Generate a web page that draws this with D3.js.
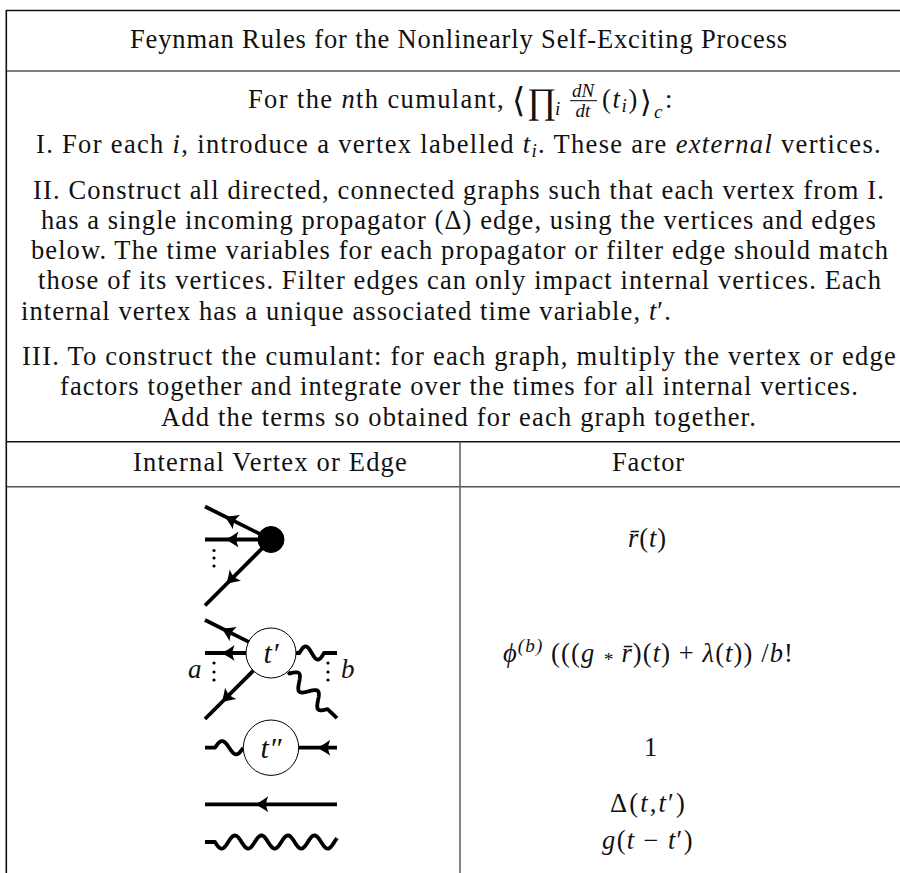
<html>
<script src='https://d3js.org/d3.v7.min.js'></script>
<style>
  body {margin: 0; background: white;}
  text {font-family: "Liberation Serif", serif; fill: #111;}
</style>
<body>
<svg width=900 height=873></svg>
<script>
// text, {x} = math italic, _{x} = subscript, ^{x} = superscript
const titleText = "Feynman Rules for the Nonlinearly Self-Exciting Process";
const ruleOne = ["I. For each {i}, introduce a vertex labelled {t}_{i}. These are {external} vertices."];
const ruleTwo = [
  "II. Construct all directed, connected graphs such that each vertex from I.",
  "has a single incoming propagator (Δ) edge, using the vertices and edges",
  "below. The time variables for each propagator or filter edge should match",
  "those of its vertices. Filter edges can only impact internal vertices. Each",
  "internal vertex has a unique associated time variable, {t}′."
];
const ruleThree = [
  "III. To construct the cumulant: for each graph, multiply the vertex or edge",
  "factors together and integrate over the times for all internal vertices.",
  "Add the terms so obtained for each graph together."
];
const columnHeads = ["Internal Vertex or Edge", "Factor"];
const factors = [
  "{r\u0304}({t})",
  "{ϕ}^{(b)} ((({g} _{*} {r\u0304})({t}) + {λ}({t})) /{b}!",
  "1",
  "Δ({t},{t}′)",
  "{g}({t} − {t}′)"
];

// diagrams, in unit coordinates: u runs -1..1 across the column, v is up/down from the row centre
const diagramRows = ["source", "vertex", "filter", "line", "wave"];
const vertexLabels = [null, "t′", "t″", null, null];
const straightEdges = [
  {row: "source", u: -1, v: 1, at: 0.30},
  {row: "source", u: -1, v: 0, at: 0.31},
  {row: "source", u: -1, v: -2, at: 0.32},
  {row: "vertex", u: -1, v: 1, at: 0.25},
  {row: "vertex", u: -1, v: 0, at: 0.25},
  {row: "vertex", u: -1, v: -2, at: 0.25},
  {row: "filter", u: 1, v: 0, at: 0.30, inward: true}
];
const wavyEdges = [
  {row: "vertex", u0: 0.37, v0: 0, u1: 1, v1: 0, periods: 1, lead: 4, tail: 13},
  {row: "vertex", u0: 0.26, v0: -0.58, u1: 1, v1: -1.97, periods: 2, lead: 2, tail: 13},
  {row: "filter", u0: -1, v0: 0, u1: -0.42, v1: 0, periods: 1, lead: 10, tail: 0},
  {row: "wave", u0: -1, v0: 0, u1: 1, v1: 0, periods: -4.6, lead: 10, tail: 0}
];

const svg = d3.select("svg");
const INK = "#000";
const GRID = 1.6;

// table rules
const rowY = [10.5, 71, 441.7, 486.7];
svg.selectAll("line.h").data(rowY).enter().append("line")
  .attr("x1", 6.3).attr("x2", 900).attr("y1", d => d).attr("y2", d => d)
  .attr("stroke", (d, i) => i % 2 ? "#555" : "#111").attr("stroke-width", GRID);
svg.append("line").attr("x1", 6.3).attr("x2", 6.3).attr("y1", 10).attr("y2", 873)
  .attr("stroke", "#111").attr("stroke-width", GRID);
svg.append("line").attr("x1", 460).attr("x2", 460).attr("y1", 441.7).attr("y2", 873)
  .attr("stroke", "#666").attr("stroke-width", GRID);

// turn the little markup into tspans
function addRich(sel, str, size) {
  const re = /_\{([^}]*)\}|\^\{([^}]*)\}|\{([^}]*)\}|([^_^{]+)/g;
  let m, shift = 0;
  while ((m = re.exec(str))) {
    const t = sel.append("tspan");
    let dy = -shift;
    if (m[1] !== undefined) {
      t.text(m[1]).style("font-style", "italic").style("font-size", size * 0.72 + "px");
      shift = size * 0.16;
    } else if (m[2] !== undefined) {
      t.text(m[2]).style("font-style", "italic").style("font-size", size * 0.72 + "px");
      shift = -size * 0.38;
    } else if (m[3] !== undefined) {
      t.text(m[3]).style("font-style", "italic");
      shift = 0;
    } else {
      t.text(m[4]);
      shift = 0;
    }
    dy += shift;
    if (dy) t.attr("dy", dy);
  }
}

// one line of text stretched to the x-extent it has in the picture
function fitLine(str, x0, x1, y, size) {
  const t = svg.append("text").attr("x", x0).attr("y", y).style("font-size", size + "px");
  addRich(t, str, size);
  const w = t.node().getComputedTextLength();
  const n = t.text().length;
  t.style("letter-spacing", (x1 - x0 - w) / n + "px");
  return t;
}
function smallText(str, x, y, size, anchor) {
  return svg.append("text").attr("x", x).attr("y", y).attr("text-anchor", anchor || "start")
    .style("font-size", size + "px").style("font-style", "italic").text(str);
}

const FS = 26.5;
fitLine(titleText, 130, 788, 48, FS);

// nth cumulant line, in pieces because of the fraction
fitLine("For the {n}th cumulant,", 248, 505, 108, FS);
svg.append("text").attr("x", 512).attr("y", 112).style("font-size", "34px").style("font-family", "DejaVu Serif").text("⟨");
svg.append("text").attr("x", 527).attr("y", 113).style("font-size", "36px").text("∏");
smallText("i", 555, 115, 19);
smallText("dN", 583, 96.7, 19, "middle");
smallText("dt", 583, 116.7, 19, "middle");
svg.append("line").attr("x1", 570).attr("x2", 597).attr("y1", 100.7).attr("y2", 100.7).attr("stroke", INK);
fitLine("({t}_{i})", 602, 639, 108, FS);
svg.append("text").attr("x", 640).attr("y", 112).style("font-size", "30px").style("font-family", "DejaVu Serif").text("⟩");
smallText("c", 654, 118, 19);
svg.append("text").attr("x", 665).attr("y", 108).style("font-size", FS + "px").text(":");

// paragraph lines; extents
fitLine(ruleOne[0], 36, 882, 153, FS);
const twoPlace = [[33, 885, 199], [41, 877, 228.5], [31, 889, 258.5], [38, 882, 289], [21, 672, 319.5]];
ruleTwo.forEach((s, i) => fitLine(s, twoPlace[i][0], twoPlace[i][1], twoPlace[i][2], FS));
const threePlace = [[22, 897, 365], [60, 859, 395], [161, 757, 426]];
ruleThree.forEach((s, i) => fitLine(s, threePlace[i][0], threePlace[i][1], threePlace[i][2], FS));

fitLine(columnHeads[0], 133, 408, 470.5, FS);
fitLine(columnHeads[1], 612, 685, 470.5, FS);

const factorPlace = [[628, 668, 547], [503, 795, 662], [644, 653, 755.5], [610, 687, 812], [602, 694, 849]];
factors.forEach((s, i) => fitLine(s, factorPlace[i][0], factorPlace[i][1], factorPlace[i][2], FS));

// diagrams
const xDiag = d3.scaleLinear().domain([-1, 1]).range([205, 337]);
const rowCentre = d3.scaleOrdinal().domain(diagramRows).range([539.5, 653, 747.7, 804.3, 842]);
const vDiag = d3.scaleLinear().domain([-1, 1]).range([33, -33]);
const radius = d3.scaleOrdinal().domain(diagramRows).range([13, 25, 27.7, 0, 0]);
const xC = xDiag(0);
const STROKE = 3.8;

const arrowShape = "M0,0 C4,-2 9,-5 13,-8 C11.5,-4 11,-2 11,0 C11,2 11.5,4 13,8 C9,5 4,2 0,0Z";
function addArrow(x, y, ang) {
  svg.append("path").attr("d", arrowShape).attr("fill", INK)
    .attr("transform", `translate(${x},${y}) rotate(${ang})`);
}

function wavePoints(x0, y0, x1, y1, periods, lead, tail) {
  const len = Math.hypot(x1 - x0, y1 - y0);
  const ux = (x1 - x0) / len, uy = (y1 - y0) / len;
  const run = len - lead - tail;
  const pts = d3.range(0, 121).map(k => {
    const s = lead + run * k / 120;
    const off = -6.6 * Math.sin(2 * Math.PI * periods * k / 120);
    return [x0 + ux * s - uy * off, y0 + uy * s + ux * off];
  });
  if (lead) pts.unshift([x0, y0]);
  if (tail) pts.push([x1, y1]);
  return pts;
}
const waveLine = d3.line().curve(d3.curveLinear);

straightEdges.forEach(e => {
  const cy = rowCentre(e.row);
  const x = xDiag(e.u), y = cy + vDiag(e.v);
  svg.append("line").attr("x1", x).attr("y1", y).attr("x2", xC).attr("y2", cy)
    .attr("stroke", INK).attr("stroke-width", STROKE);
  const ang = Math.atan2(cy - y, xC - x) * 180 / Math.PI;
  addArrow(x + (xC - x) * e.at, y + (cy - y) * e.at, e.inward ? ang + 180 : ang);
});

wavyEdges.forEach(e => {
  const cy = rowCentre(e.row);
  const pts = wavePoints(xDiag(e.u0), cy + vDiag(e.v0), xDiag(e.u1), cy + vDiag(e.v1), e.periods, e.lead, e.tail);
  svg.append("path").attr("d", waveLine(pts)).attr("fill", "none")
    .attr("stroke", INK).attr("stroke-width", STROKE).attr("stroke-linejoin", "round");
});

// vertices drawn after the edges so the discs cover them
diagramRows.forEach((r, i) => {
  if (!radius(r)) return;
  const solid = r === "source";
  svg.append("circle").attr("cx", xC).attr("cy", rowCentre(r)).attr("r", radius(r))
    .attr("fill", solid ? INK : "white").attr("stroke", INK).attr("stroke-width", 1);
  if (vertexLabels[i]) {
    smallText(vertexLabels[i], xC, rowCentre(r) + 10, 30, "middle");
  }
});

// plain line row
const lineY = rowCentre("line");
svg.append("line").attr("x1", xDiag(-1)).attr("x2", xDiag(1)).attr("y1", lineY).attr("y2", lineY)
  .attr("stroke", INK).attr("stroke-width", STROKE);
addArrow(xDiag(-0.24), lineY, 0);

// vertical dots and the a, b labels
[[214, "source", [11, 18.5, 26.5]], [214, "vertex", [10, 19, 27]], [328, "vertex", [10, 19, 27]]].forEach(d => {
  d[2].forEach(dy => svg.append("circle").attr("cx", d[0]).attr("cy", rowCentre(d[1]) + dy).attr("r", 1.6).attr("fill", INK));
});
smallText("a", 188, 678, 27);
smallText("b", 341, 678, 27);
</script>
</body>
</html>
